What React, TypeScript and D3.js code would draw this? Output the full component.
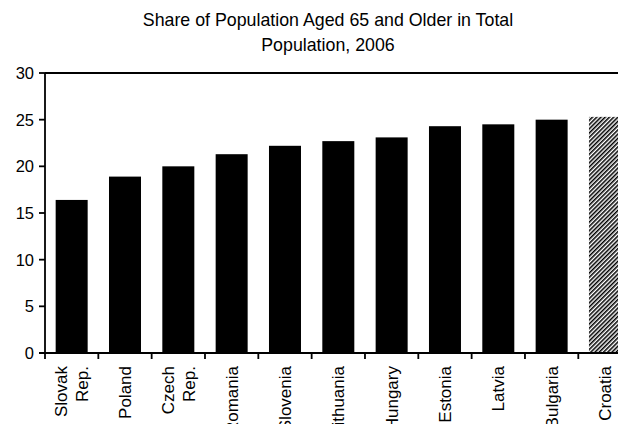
import React from "react";
import * as d3 from "d3";

const categories: string[][] = [
  ["Slovak", "Rep."],
  ["Poland"],
  ["Czech", "Rep."],
  ["Romania"],
  ["Slovenia"],
  ["Lithuania"],
  ["Hungary"],
  ["Estonia"],
  ["Latvia"],
  ["Bulgaria"],
  ["Croatia"],
];
const values: number[] = [16.4, 18.9, 20.0, 21.3, 22.2, 22.7, 23.1, 24.3, 24.5, 25.0, 25.3];
const highlighted: boolean[] = [false, false, false, false, false, false, false, false, false, false, true];
const yTicks: number[] = [0, 5, 10, 15, 20, 25, 30];
const titleLines: string[] = ["Share of Population Aged 65 and Older in Total", "Population, 2006"];

const W = 618;
const H = 424;
const FONT = "'Liberation Sans', Arial, sans-serif";

export default function App() {
  const left = 45;
  const top = 73;
  const bottom = 353;
  const step = 53.33;
  const right = left + step * categories.length;
  const keys = categories.map((c) => c.join(" "));

  const x = d3.scaleBand<string>().domain(keys).range([left, right]).paddingInner(0.4).paddingOuter(0.2);
  const y = d3.scaleLinear().domain([0, 30]).range([bottom, top]);

  const boundaries = d3.range(categories.length + 1).map((i) => left + i * x.step());

  return (
    <svg
      width={W}
      height={H}
      style={{ position: "absolute", left: 0, top: 0, background: "#fff", overflow: "hidden" }}
      fontFamily={FONT}
    >
      <defs>
        <pattern id="hatch" patternUnits="userSpaceOnUse" width={3} height={3} patternTransform="rotate(45)">
          <rect width={3} height={3} fill="#fff" />
          <line x1={0.75} y1={0} x2={0.75} y2={3} stroke="#000" strokeWidth={1.6} />
        </pattern>
      </defs>
      <rect width={W} height={H} fill="#fff" />
      {titleLines.map((t, i) => (
        <text key={i} x={328} y={26 + i * 25} textAnchor="middle" fontSize={17.8} fill="#000">
          {t}
        </text>
      ))}
      {/* bars */}
      {values.map((v, i) => (
        <rect
          key={keys[i]}
          x={x(keys[i])}
          y={y(v)}
          width={x.bandwidth()}
          height={bottom - y(v)}
          fill={highlighted[i] ? "url(#hatch)" : "#000"}
        />
      ))}
      {/* axes */}
      <line x1={left} y1={top} x2={W + 20} y2={top} stroke="#000" strokeWidth={1.8} />
      <line x1={left} y1={top} x2={left} y2={bottom} stroke="#000" strokeWidth={1.8} />
      <line x1={left - 6} y1={bottom} x2={W + 20} y2={bottom} stroke="#000" strokeWidth={1.8} />
      {yTicks.map((t) => (
        <g key={t}>
          <line x1={left - 6} x2={left} y1={y(t)} y2={y(t)} stroke="#000" strokeWidth={1.8} />
          <text x={left - 11} y={y(t) + 6} textAnchor="end" fontSize={16.5} fill="#000">
            {t}
          </text>
        </g>
      ))}
      {boundaries.map((bx, i) => (
        <line key={i} x1={bx} x2={bx} y1={bottom} y2={bottom + 6} stroke="#000" strokeWidth={1.8} />
      ))}
      {/* x labels */}
      {categories.map((lines, i) => {
        const cx = (x(keys[i]) as number) + x.bandwidth() / 2;
        const n = lines.length;
        return lines.map((ln, j) => {
          const off = (j - (n - 1) / 2) * 21.5;
          const bx = cx + off + 6;
          return (
            <text
              key={keys[i] + j}
              transform={`translate(${bx},366) rotate(-90)`}
              textAnchor="end"
              fontSize={17}
              fill="#000"
            >
              {ln}
            </text>
          );
        });
      })}
    </svg>
  );
}
